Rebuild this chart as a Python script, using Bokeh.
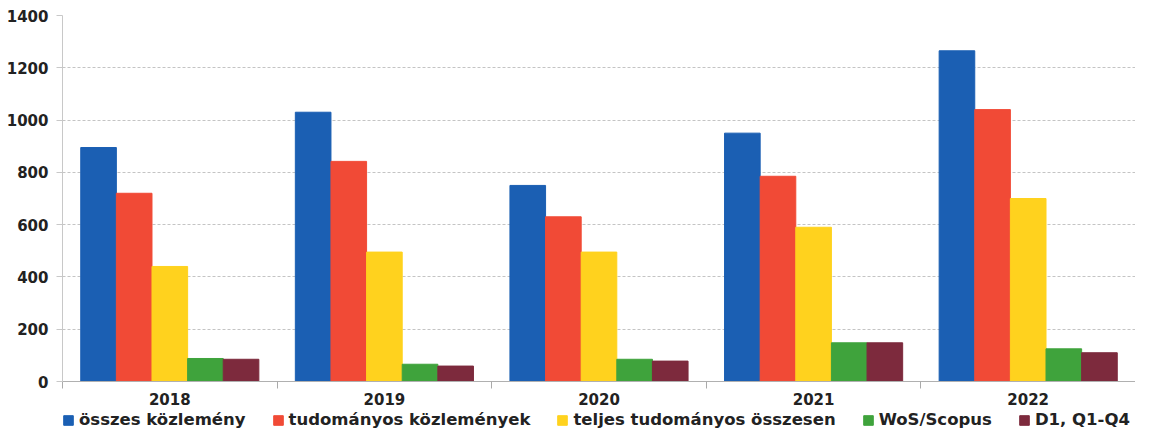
import numpy as np
from bokeh.plotting import figure
from bokeh.layouts import column
from bokeh.models import FixedTicker, Range1d, Legend, LegendItem, ColumnDataSource
from bokeh.embed import file_html
from bokeh.resources import INLINE

years = ["2018", "2019", "2020", "2021", "2022"]
series_names = ["összes közlemény", "tudományos közlemények",
                "teljes tudományos összesen", "WoS/Scopus", "D1, Q1-Q4"]
osszes = [895, 1030, 750, 950, 1265]
tudomanyos = [720, 842, 630, 785, 1040]
teljes = [440, 495, 495, 590, 700]
wos = [88, 66, 85, 148, 125]
d1 = [85, 59, 78, 148, 110]
colors = ["#1b5fb3", "#f14a36", "#ffd21e", "#3fa33c", "#7d2a3d"]
y_ticks = [0, 200, 400, 600, 800, 1000, 1200, 1400]

all_series = [osszes, tudomanyos, teljes, wos, d1]
FONT = "DejaVu Sans"

p = figure(width=1135, height=408, output_backend="svg", toolbar_location=None,
           x_range=Range1d(0, len(years)), y_range=Range1d(0, 1400),
           min_border_left=62, min_border_right=0, min_border_top=15, min_border_bottom=27)
p.outline_line_color = None
p.background_fill_color = "white"

bar_w = 0.166
n = len(all_series)
base = np.arange(len(years)) + 0.5
for i, (vals, name, c) in enumerate(zip(all_series, series_names, colors)):
    off = (i - (n - 1) / 2) * bar_w
    src = ColumnDataSource(dict(x=base + off, top=vals))
    p.vbar(x="x", top="top", width=bar_w, bottom=0, source=src,
           fill_color=c, line_color=c)

# x axis
xt = FixedTicker(ticks=list(base), minor_ticks=list(range(len(years) + 1)))
p.xaxis.ticker = xt
p.xaxis.major_label_overrides = {float(b): y for b, y in zip(base, years)}
p.xaxis.major_tick_line_color = None
p.xaxis.minor_tick_line_color = "#aaaaaa"
p.xaxis.minor_tick_in = 0
p.xaxis.minor_tick_out = 7
p.xaxis.axis_line_color = "#b0b0b0"
p.xaxis.major_label_text_font = FONT
p.xaxis.major_label_text_font_style = "bold"
p.xaxis.major_label_text_font_size = "15px"
p.xaxis.major_label_text_color = "#222222"
p.xaxis.major_label_standoff = 4
p.xgrid.grid_line_color = None

# y axis
p.yaxis.ticker = FixedTicker(ticks=y_ticks)
p.yaxis.axis_line_color = "#c8c8c8"
p.yaxis.major_tick_line_color = "#c8c8c8"
p.yaxis.major_tick_in = 0
p.yaxis.major_tick_out = 6
p.yaxis.minor_tick_line_color = None
p.yaxis.major_label_text_font = FONT
p.yaxis.major_label_text_font_style = "bold"
p.yaxis.major_label_text_font_size = "15px"
p.yaxis.major_label_text_color = "#222222"
p.yaxis.major_label_standoff = 8
p.ygrid.grid_line_color = "#c4c4c4"
p.ygrid.grid_line_dash = "3 2"

# legend strip
lg = figure(width=1135, height=21, output_backend="svg", toolbar_location=None,
            x_range=Range1d(0, 1), y_range=Range1d(0, 1),
            x_axis_location=None, y_axis_location=None,
            min_border_left=0, min_border_right=0, min_border_top=0, min_border_bottom=0)
lg.outline_line_color = None
lg.xgrid.grid_line_color = None
lg.ygrid.grid_line_color = None
items = []
for name, c in zip(series_names, colors):
    r = lg.vbar(x=[-5], top=[-5], bottom=[-6], width=0.1, fill_color=c, line_color=c)
    items.append(LegendItem(label=name, renderers=[r]))

legend = Legend(items=items, orientation="horizontal", location=(0, 0),
                label_text_font=FONT, label_text_font_style="bold",
                label_text_font_size="16.5px", label_text_color="#222222",
                glyph_width=12, glyph_height=12, label_standoff=5, spacing=26,
                border_line_color=None, background_fill_alpha=0,
                padding=0, margin=0)
lg.add_layout(legend, "center")

open("out.html", "w").write(file_html(column(p, lg), INLINE))
